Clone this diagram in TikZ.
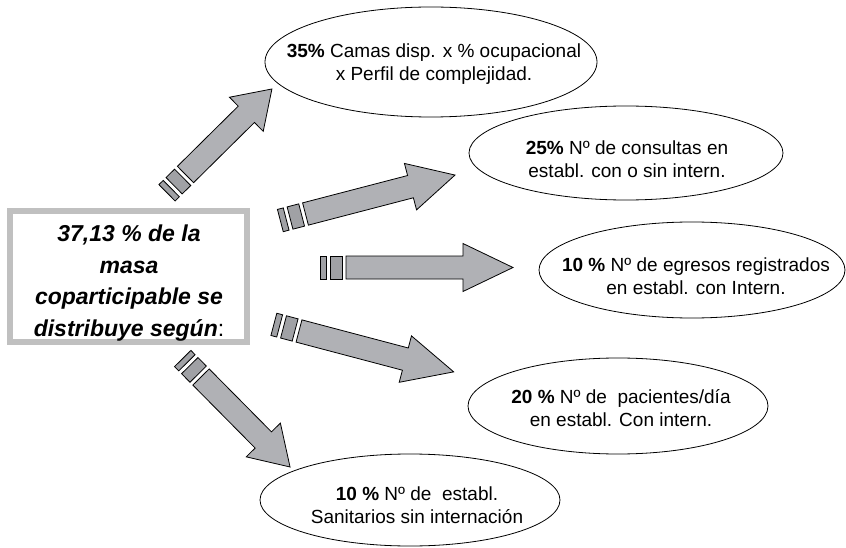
\documentclass[tikz,border=0pt]{standalone}
\usepackage{fontspec}
\setmainfont{Liberation Sans}
\usetikzlibrary{shapes.geometric}
\definecolor{arrfill}{RGB}{176,177,181}
\definecolor{tailfill}{RGB}{160,161,165}
\definecolor{boxgray}{RGB}{192,192,192}
\tikzset{
  ell/.style={draw=black, line width=0.8pt, ellipse, inner sep=0pt},
  ltext/.style={align=center, inner sep=0pt, font=\fontsize{19}{23}\selectfont},
  arrowshape/.style={draw=black, line width=0.8pt, fill=arrfill, line join=miter},
  tailshape/.style={draw=black, line width=0.8pt, fill=tailfill},
}
% #1 tail coordinate, #2 angle, #3 length, #4 head length
\newcommand\blockarr[4]{%
  \begin{scope}[shift={(#1)}, rotate=#2]
    \draw[arrowshape] (0,-11.5) -- ({#3-#4},-11.5) -- ({#3-#4},-24) -- (#3,0)
      -- ({#3-#4},24) -- ({#3-#4},11.5) -- (0,11.5) -- cycle;
    \draw[tailshape] (-4,-11.5) rectangle (-16,11.5);
    \draw[tailshape] (-20,-11.5) rectangle (-26,11.5);
  \end{scope}}
\begin{document}
\begin{tikzpicture}[x=1pt, y=-1pt]
\useasboundingbox (0,0) rectangle (846,548);
% central box
\node[draw=boxgray, line width=6pt, minimum width=237pt, minimum height=131pt, inner sep=0pt] (box) at (128.5,276.5) {};
\node[align=center, inner sep=0pt, font=\fontsize{23}{31.5}\selectfont\bfseries\itshape] (mt) at (129,283)
  {37,13 \% de la\\masa\\coparticipable se\\distribuye según{\normalfont:}};
% ellipses
\node[ell, minimum width=332pt, minimum height=110pt] (e1) at (431,62) {};
\node[ell, minimum width=314pt, minimum height=94pt] (e2) at (626,153) {};
\node[ell, minimum width=306pt, minimum height=96pt] (e3) at (692,270) {};
\node[ell, minimum width=300pt, minimum height=96pt] (e4) at (618,406) {};
\node[ell, minimum width=300pt, minimum height=92pt] (e5) at (410,500) {};
% texts
\node[ltext] (t1) at (434,64) {\textbf{35\%} Camas disp. x \% ocupacional\\x Perfil de complejidad.};
\node[ltext] (t2) at (627,159) {\textbf{25\%} Nº de consultas en\\establ. con o sin intern.};
\node[ltext] (t3) at (696,276) {\textbf{10 \%} Nº de egresos registrados\\en establ. con Intern.};
\node[ltext] (t4) at (621,408) {\textbf{20 \%} Nº de\ \ pacientes/día\\en establ. Con intern.};
\node[ltext] (t5) at (417,505) {\textbf{10 \%} Nº de\ \ establ.\\Sanitarios sin internación};
% arrows
\coordinate (a1) at (185.5,174.5);
\coordinate (a2) at (305.5,214);
\coordinate (a3) at (346,267.5);
\coordinate (a4) at (299,331);
\coordinate (a5) at (201,377);
\blockarr{a1}{44.7}{121.6}{36}
\blockarr{a2}{14.6}{154.5}{46}
\blockarr{a3}{0}{167}{50}
\blockarr{a4}{-14.8}{160}{50}
\blockarr{a5}{-45.3}{126.6}{38}
\end{tikzpicture}
\end{document}
